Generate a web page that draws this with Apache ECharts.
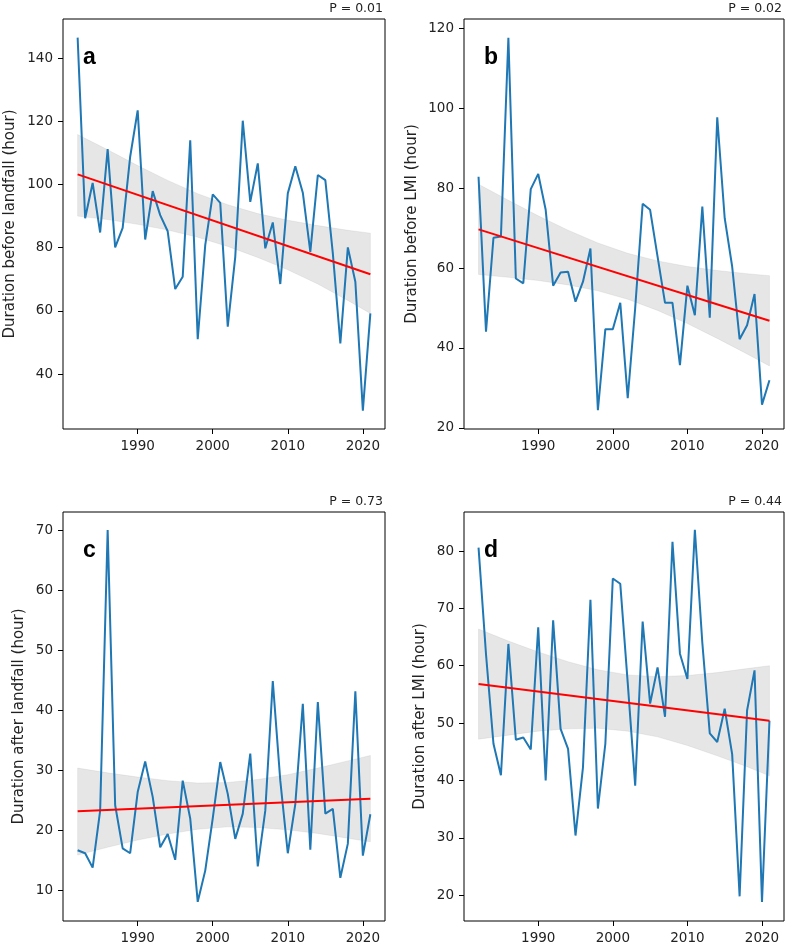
<!DOCTYPE html>
<html>
<head>
<meta charset="utf-8">
<script src="https://cdn.jsdelivr.net/npm/echarts@6/dist/echarts.min.js"></script>
<style>
  html, body { margin: 0; padding: 0; background: #fff; }
  #chart { width: 788px; height: 945px; }
</style>
</head>
<body>
<div id="chart"></div>
<script>
const years = [1982, 1983, 1984, 1985, 1986, 1987, 1988, 1989, 1990, 1991,
  1992, 1993, 1994, 1995, 1996, 1997, 1998, 1999, 2000, 2001,
  2002, 2003, 2004, 2005, 2006, 2007, 2008, 2009, 2010, 2011,
  2012, 2013, 2014, 2015, 2016, 2017, 2018, 2019, 2020, 2021];

// durations (hour)
const beforeLandfall = [146.5, 89.3, 100.5, 84.8, 111.2, 80.1, 86.3, 108.8, 123.5, 82.6,
  97.9, 90.3, 85.2, 66.9, 70.8, 114, 51, 80.8, 96.9, 94.2,
  55, 77.1, 120.2, 94.5, 106.7, 79.8, 88, 68.5, 97.2, 105.8,
  97.4, 78.7, 103, 101.4, 78.2, 49.7, 80.1, 69.2, 28.4, 59.2];
const beforeLMI = [82.9, 44.1, 67.6, 67.9, 117.7, 57.4, 56.2, 79.8, 83.6, 74.6,
  55.6, 58.9, 59.1, 51.6, 56.6, 64.9, 24.4, 44.7, 44.7, 51.3,
  27.4, 50, 76.1, 74.6, 62.9, 51.3, 51.3, 35.7, 55.6, 48.2,
  75.4, 47.6, 97.8, 72.5, 60.4, 42.2, 45.7, 53.5, 25.8, 31.9];
const afterLandfall = [16.7, 16.2, 13.8, 23.3, 70.1, 24.2, 17, 16.2, 26.4, 31.5,
  25.6, 17.2, 19.4, 15.1, 28.3, 22, 8.1, 13.3, 22, 31.4,
  26.1, 18.6, 22.8, 32.8, 14, 23.3, 44.9, 28.3, 16.2, 24.4,
  41.1, 16.8, 41.4, 22.8, 23.6, 12.1, 17.8, 43.2, 15.8, 22.7];
const afterLMI = [80.6, 62, 46.4, 40.9, 63.8, 47.1, 47.5, 45.4, 66.7, 40,
  67.9, 49, 45.5, 30.4, 42.3, 71.5, 35.1, 46.4, 75.2, 74.3,
  57, 39.1, 67.7, 53.4, 59.7, 51.1, 81.6, 62.1, 57.7, 83.7,
  64, 48.2, 46.7, 52.5, 44.6, 19.8, 52.2, 59.2, 18.8, 50.4];

// regression line ends (1982, 2021) and confidence band
const fitYears = [1982, 2021];
const fitA = [103.2, 71.6];
const fitB = [69.7, 46.8];
const fitC = [23.2, 25.3];
const fitD = [56.8, 50.4];

const bandYears = [1982, 1986, 1990, 1994, 1998, 2002, 2006, 2010, 2014, 2018, 2021];
const upperA = [115.8, 111.0, 106.0, 101.3, 97.1, 93.6, 90.8, 88.7, 87.0, 85.5, 84.6];
const lowerA = [90.0, 88.9, 87.4, 85.6, 83.3, 80.4, 76.9, 73.0, 68.5, 63.3, 59.2];
const upperB = [81.0, 77.0, 73.1, 69.5, 66.3, 63.7, 61.8, 60.4, 59.4, 58.6, 58.1];
const lowerB = [58.4, 57.7, 56.9, 55.8, 54.3, 52.2, 49.4, 46.1, 42.4, 38.5, 35.5];
const upperC = [30.4, 29.6, 28.9, 28.3, 27.9, 28.0, 28.5, 29.3, 30.4, 31.6, 32.5];
const lowerC = [15.9, 17.2, 18.4, 19.4, 20.2, 20.6, 20.5, 20.1, 19.5, 18.7, 18.1];
const upperD = [66.4, 64.3, 62.4, 60.7, 59.3, 58.4, 58.1, 58.3, 58.8, 59.5, 60.0];
const lowerD = [47.2, 47.9, 48.6, 49.0, 49.1, 48.6, 47.6, 46.1, 44.3, 42.4, 40.8];

const xTicks = [1990, 2000, 2010, 2020];
const yTicksA = [40, 60, 80, 100, 120, 140];
const yTicksB = [20, 40, 60, 80, 100, 120];
const yTicksC = [10, 20, 30, 40, 50, 60, 70];
const yTicksD = [20, 30, 40, 50, 60, 70, 80];

const panels = [
  { grid: { left: 63, top: 19, width: 322, height: 410 }, vals: beforeLandfall, fit: fitA, up: upperA, lo: lowerA,
    yMin: 22.6, yMax: 152.4, ticks: yTicksA, name: 'Duration before landfall (hour)', gap: 45, letter: 'a', p: 'P = 0.01' },
  { grid: { left: 464, top: 19, width: 320, height: 410 }, vals: beforeLMI, fit: fitB, up: upperB, lo: lowerB,
    yMin: 19.7, yMax: 122.4, ticks: yTicksB, name: 'Duration before LMI (hour)', gap: 44, letter: 'b', p: 'P = 0.02' },
  { grid: { left: 63, top: 512, width: 322, height: 409 }, vals: afterLandfall, fit: fitC, up: upperC, lo: lowerC,
    yMin: 4.9, yMax: 73.1, ticks: yTicksC, name: 'Duration after landfall (hour)', gap: 36, letter: 'c', p: 'P = 0.73' },
  { grid: { left: 464, top: 512, width: 320, height: 409 }, vals: afterLMI, fit: fitD, up: upperD, lo: lowerD,
    yMin: 15.5, yMax: 86.8, ticks: yTicksD, name: 'Duration after LMI (hour)', gap: 36, letter: 'd', p: 'P = 0.44' }
];

const FONT = 'DejaVu Sans';
const TXT = '#222';
const plain = v => String(v);

const grids = [], xAxes = [], yAxes = [], series = [], graphics = [];

panels.forEach((p, i) => {
  grids.push(Object.assign({ show: true, borderColor: '#000', borderWidth: 1, backgroundColor: 'transparent' }, p.grid));
  xAxes.push({
    gridIndex: i, type: 'value', min: 1980.05, max: 2022.95,
    splitLine: { show: false }, axisLine: { show: false },
    axisTick: { show: true, length: 5, customValues: xTicks, lineStyle: { color: '#000' } },
    axisLabel: { customValues: xTicks, formatter: plain, fontSize: 13.5, color: TXT, fontFamily: FONT, margin: 10 }
  });
  yAxes.push({
    gridIndex: i, type: 'value', min: p.yMin, max: p.yMax,
    name: p.name, nameLocation: 'middle', nameGap: p.gap,
    nameTextStyle: { fontSize: 15, color: TXT, fontFamily: FONT },
    splitLine: { show: false }, axisLine: { show: false },
    axisTick: { show: true, length: 5, customValues: p.ticks, lineStyle: { color: '#000' } },
    axisLabel: { customValues: p.ticks, formatter: plain, fontSize: 13.5, color: TXT, fontFamily: FONT, margin: 10 }
  });

  // confidence band
  series.push({
    type: 'custom', xAxisIndex: i, yAxisIndex: i, silent: true, z: 1,
    data: [[bandYears[0], p.up[0]]],
    renderItem: (params, api) => {
      const pts = [];
      bandYears.forEach((y, k) => pts.push(api.coord([y, p.up[k]])));
      for (let k = bandYears.length - 1; k >= 0; k--) pts.push(api.coord([bandYears[k], p.lo[k]]));
      return { type: 'polygon', shape: { points: pts },
        style: { fill: 'rgba(128,128,128,0.2)', stroke: 'rgba(128,128,128,0.12)', lineWidth: 1 } };
    }
  });
  series.push({
    type: 'line', xAxisIndex: i, yAxisIndex: i, z: 2, silent: true,
    data: years.map((y, k) => [y, p.vals[k]]),
    showSymbol: false, lineStyle: { color: '#1f77b4', width: 2 }
  });
  series.push({
    type: 'line', xAxisIndex: i, yAxisIndex: i, z: 3, silent: true,
    data: fitYears.map((y, k) => [y, p.fit[k]]),
    showSymbol: false, lineStyle: { color: '#ff0000', width: 2 }
  });

  const g = p.grid;
  graphics.push({
    type: 'text', left: g.left + 20, top: g.top + 27,
    style: { text: p.letter, font: 'bold 23px "Liberation Sans", Arial, sans-serif', fill: '#000' }
  });
  graphics.push({
    type: 'text', right: 788 - (g.left + g.width) + 2, top: g.top - 17,
    style: { text: p.p, font: '12.5px "DejaVu Sans"', fill: TXT }
  });
});

const chart = echarts.init(document.getElementById('chart'), null, { renderer: 'canvas' });
chart.setOption({
  animation: false,
  grid: grids,
  xAxis: xAxes,
  yAxis: yAxes,
  series: series,
  graphic: graphics
});
</script>
</body>
</html>
